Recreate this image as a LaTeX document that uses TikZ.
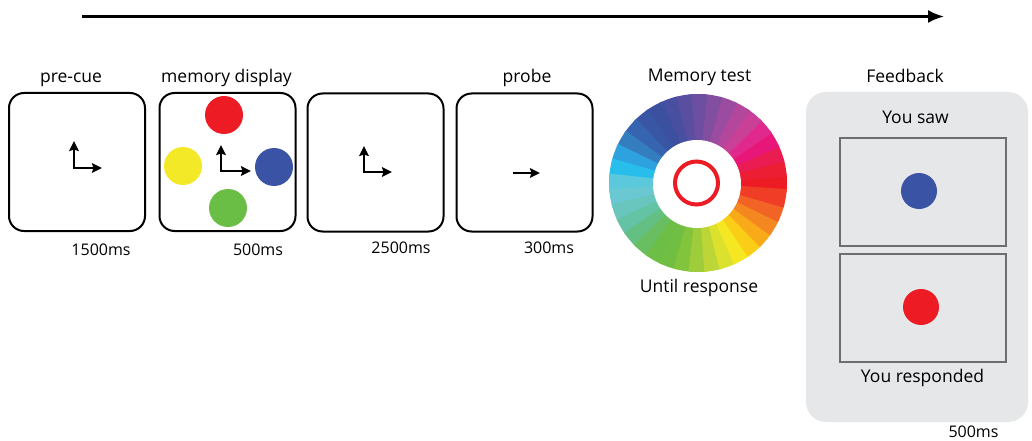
\documentclass[tikz,border=0pt]{standalone}
\usepackage{fontspec}
\setmainfont{Open Sans}
\usetikzlibrary{arrows.meta}
\definecolor{dotred}{RGB}{237,28,36}
\definecolor{dotyellow}{RGB}{243,233,38}
\definecolor{dotblue}{RGB}{58,83,164}
\definecolor{dotgreen}{RGB}{106,189,69}
\definecolor{panelgray}{RGB}{230,231,232}
\definecolor{framegray}{RGB}{109,110,113}
\begin{document}
\begin{tikzpicture}[x=1pt,y=-1pt,
  screen/.style={draw=black, line width=2pt, rounded corners=15pt,
    minimum width=136pt, minimum height=138pt, inner sep=0pt},
  title/.style={anchor=base, inner sep=0pt, font=\fontsize{17.5}{20}\selectfont},
  dur/.style={anchor=base, inner sep=0pt, font=\fontsize{16}{19}\selectfont},
  dot/.style={circle, inner sep=0pt, minimum size=38pt},
  fbframe/.style={draw=framegray, line width=2pt, minimum width=166pt,
    minimum height=108pt, inner sep=0pt},
  cross/.style={line width=2.2pt, line join=miter,
    {Stealth[length=10pt,width=9.5pt,inset=1.5pt]}-{Stealth[length=10pt,width=9.5pt,inset=1.5pt]}},
  single/.style={line width=2pt, -{Stealth[length=10pt,width=9.5pt,inset=1.5pt]}},
]
\useasboundingbox (0,0) rectangle (1032,441);
\fill[white] (0,0) rectangle (1032,441);

% time line
\coordinate (tstart) at (82,16.5);
\coordinate (tend) at (944,16.5);
\draw[line width=2.4pt, -{Latex[length=16pt,width=13pt]}] (tstart) -- (tend);

% screens
\node[screen] (s1) at (77,162) {};
\node[screen] (s2) at (227.5,162) {};
\node[screen] (s3) at (375.5,162.5) {};
\node[screen] (s4) at (524.5,162.5) {};

% titles
\node[title] (t1) at (71,83) {pre-cue};
\node[title] (t2) at (226.5,83) {memory display};
\node[title] (t4) at (527,83) {probe};
\node[title] (t5) at (699.5,82) {Memory test};
\node[title] (t6) at (905,83) {Feedback};

% durations
\node[dur] (d1) at (101,255) {1500ms};
\node[dur] (d2) at (258,255) {500ms};
\node[dur] (d3) at (401,253) {2500ms};
\node[dur] (d4) at (549,253) {300ms};

% pre-cue arrows
\coordinate (o1) at (74,168);
\coordinate (u1) at (74,141);
\coordinate (r1) at (102,168);
\draw[cross] (u1) -- (o1) -- (r1);

% memory display
\node[dot, fill=dotred] (cred) at (224,115) {};
\node[dot, fill=dotyellow] (cyellow) at (183,166) {};
\node[dot, fill=dotblue] (cblue) at (274,167) {};
\node[dot, fill=dotgreen] (cgreen) at (228,208) {};
\coordinate (o2) at (221,171);
\coordinate (u2) at (221,145);
\coordinate (r2) at (251,171);
\draw[cross] (u2) -- (o2) -- (r2);

% delay arrows
\coordinate (o3) at (364,172);
\coordinate (u3) at (364,146);
\coordinate (r3) at (392,172);
\draw[cross] (u3) -- (o3) -- (r3);

% probe arrow
\coordinate (p0) at (513,173);
\coordinate (p1) at (540,173);
\draw[single] (p0) -- (p1);

% colour wheel
\node[circle, minimum size=178pt, inner sep=0pt] (wheel) at (698,183) {};
\begin{scope}[shift={(698,183)}]
\foreach \a/\r/\g/\b in {
  0/237/28/36, 10/236/30/52, 20/234/28/82, 30/232/22/120,
  40/225/40/140, 50/202/64/150, 60/180/70/155, 70/155/75/160,
  80/130/78/160, 90/110/78/160, 100/90/78/160, 110/72/78/160,
  120/60/80/160, 130/56/86/164, 140/55/100/176, 150/52/126/192,
  160/45/162/222, 170/40/190/235, 180/92/200/220, 190/105/200/210,
  200/105/198/190, 210/100/195/165, 220/100/192/130, 230/104/190/96,
  240/108/190/70, 250/112/191/66, 260/130/196/60, 270/158/204/58,
  280/188/214/55, 290/220/225/45, 300/245/232/35, 310/250/205/22,
  320/248/170/25, 330/245/135/32, 340/242/100/38, 350/240/62/38} {
  \definecolor{wedge}{RGB}{\r,\g,\b}
  \fill[wedge] (0,0) -- (-\a-6:89)
    arc[start angle=-\a-6, end angle=-\a+6, radius=89] -- cycle;
}
\fill[white] (-1,1) circle[radius=44];
\draw[dotred, line width=4pt] (-1.5,0) circle[radius=21.5];
\end{scope}
\node[title] (t7) at (699,292) {Until response};

% feedback panel
\node[fill=panelgray, rounded corners=20pt, minimum width=222pt,
  minimum height=330pt, inner sep=0pt] (panel) at (917,257) {};
\node[title] (saw) at (915.5,123) {You saw};
\node[fbframe] (f1) at (923,191.5) {};
\node[fbframe] (f2) at (923,308) {};
\node[dot, minimum size=36pt, fill=dotblue] (fblue) at (919,191) {};
\node[dot, minimum size=36pt, fill=dotred] (fred) at (921,307) {};
\node[title] (resp) at (922.5,382) {You responded};
\node[dur] (d5) at (973.5,437) {500ms};
\end{tikzpicture}
\end{document}
